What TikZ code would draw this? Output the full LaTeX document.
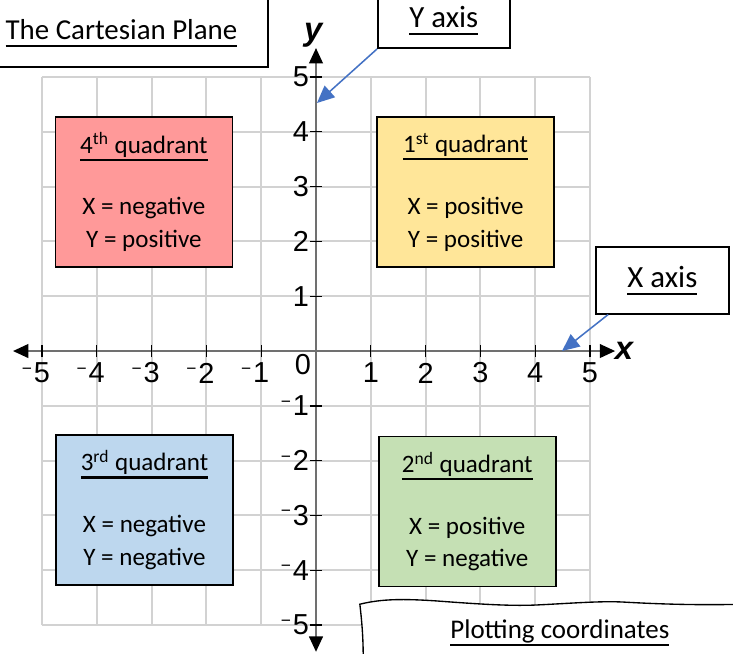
\documentclass[tikz,border=0pt]{standalone}
\usepackage{fontspec}
\setmainfont{Carlito}
\newfontfamily\axisfont{Liberation Sans}
\usetikzlibrary{arrows.meta,positioning}
\definecolor{qred}{RGB}{255,153,153}
\definecolor{qyellow}{RGB}{255,230,153}
\definecolor{qblue}{RGB}{189,215,238}
\definecolor{qgreen}{RGB}{197,224,180}
\definecolor{callblue}{RGB}{68,114,196}
\definecolor{gridgray}{RGB}{210,210,210}
\definecolor{axisgray}{RGB}{112,112,112}
\newsavebox\ulbox
\newcommand{\handul}[1]{\sbox\ulbox{#1}\rlap{\raisebox{-4pt}{\rule{\wd\ulbox}{1.1pt}}}\usebox\ulbox}
\newcommand{\negsign}{\raisebox{0.55ex}{\fontsize{9}{9}\selectfont\char"2212}\kern1pt}

\begin{document}
\begin{tikzpicture}[
    quad/.style={draw,line width=0.8pt,minimum width=3.23cm,minimum height=2.74cm,align=center,font=\fontsize{13}{17}\selectfont},
    callout/.style={draw,fill=white,line width=0.8pt,font=\fontsize{16}{19}\selectfont},
    ticklabel/.style={inner sep=0pt,font=\axisfont\fontsize{15}{17}\selectfont},
    pointer/.style={-{Triangle[length=9pt,width=8pt]},callblue,line width=0.8pt}]
  \useasboundingbox (-5.766,-5.511) rectangle (7.609,6.405);
  \clip (-5.766,-5.511) rectangle (7.609,6.405);

  \foreach \k in {-5,...,5} {
    \draw[gridgray,line width=1pt] (\k,-5) -- (\k,5);
    \draw[gridgray,line width=1pt] (-5,\k) -- (5,\k);
  }

  \coordinate (xleft) at (-5.53,0);
  \coordinate (xright) at (5.46,0);
  \coordinate (ytop) at (0,5.53);
  \coordinate (ybottom) at (0,-5.49);
  \draw[axisgray,line width=1.3pt,{Triangle[color=black,length=8pt,width=7pt]}-{Triangle[color=black,length=8pt,width=7pt]}] (xleft) -- (xright);
  \draw[axisgray,line width=1.3pt,{Triangle[color=black,length=8pt,width=7pt]}-{Triangle[color=black,length=8pt,width=7pt]}] (ybottom) -- (ytop);

  \foreach \k in {-5,...,-1,1,2,...,5} {
    \pgfmathtruncatemacro\absk{abs(\k)}
    \draw[line width=0.7pt] (\k,-0.11) -- (\k,0.11);
    \draw[line width=0.7pt] (-0.11,\k) -- (0.11,\k);
    \node[ticklabel] (xt\absk\ifnum\k<0 n\fi) at (\k,-0.40) {\ifnum\k<0 \llap{\negsign}\fi\absk};
    \node[ticklabel,anchor=east] (yt\absk\ifnum\k<0 n\fi) at (-0.12,\k) {\ifnum\k<0 \negsign\fi\absk};
  }
  \node[ticklabel] (zero) at (-0.237,-0.24) {0};
  \node[ticklabel,font=\axisfont\bfseries\itshape\fontsize{17}{19}\selectfont] (xlabel) at (5.62,0) {x};
  \node[ticklabel,font=\axisfont\bfseries\itshape\fontsize{17}{19}\selectfont] (ylabel) at (-0.05,5.77) {y};

  \node[quad,fill=qred] (q4) at (-3.14,2.90) {\handul{4\textsuperscript{th} quadrant}\\[15pt] X = negative\\ Y = positive};
  \node[quad,fill=qyellow] (q1) at (2.73,2.90) {\handul{1\textsuperscript{st} quadrant}\\[15pt] X = positive\\ Y = positive};
  \node[quad,fill=qblue] (q3) at (-3.13,-2.90) {\handul{3\textsuperscript{rd} quadrant}\\[15pt] X = negative\\ Y = negative};
  \node[quad,fill=qgreen] (q2) at (2.76,-2.93) {\handul{2\textsuperscript{nd} quadrant}\\[15pt] X = positive\\ Y = negative};

  \draw[line width=0.8pt,fill=white] (-6,5.182) rectangle (-0.876,7);
  \node[font=\fontsize{15}{18}\selectfont] (title) at (-3.55,5.80) {\handul{The Cartesian Plane}};

  \node[callout,minimum width=2.41cm,minimum height=1.0cm,anchor=south west] (yaxisbox) at (1.113,5.511) {\handul{Y axis}};
  \node[callout,minimum width=2.43cm,minimum height=1.22cm] (xaxisbox) at (6.32,1.29) {\handul{X axis}};
  \coordinate (ytarget) at (0.018,4.526);
  \coordinate (xtarget) at (4.489,0);
  \draw[pointer] (yaxisbox.south west) -- (ytarget);
  \draw[pointer] ([xshift=0.24cm]xaxisbox.south west) -- (xtarget);

  \draw[line width=0.7pt,fill=white] (0.86,-5.7) .. controls (0.87,-5.2) and (0.82,-4.8) .. (0.80,-4.62)
    .. controls (1.2,-4.52) and (1.6,-4.52) .. (2.2,-4.56)
    .. controls (3.0,-4.62) and (3.6,-4.66) .. (4.1,-4.63)
    .. controls (4.7,-4.6) and (5.2,-4.56) .. (5.6,-4.58)
    .. controls (6.3,-4.62) and (7.0,-4.64) .. (7.8,-4.62) -- (7.8,-5.7) -- cycle;
  \node[font=\fontsize{14}{17}\selectfont] (plotting) at (4.45,-5.15) {\handul{Plotting coordinates}};
\end{tikzpicture}
\end{document}
